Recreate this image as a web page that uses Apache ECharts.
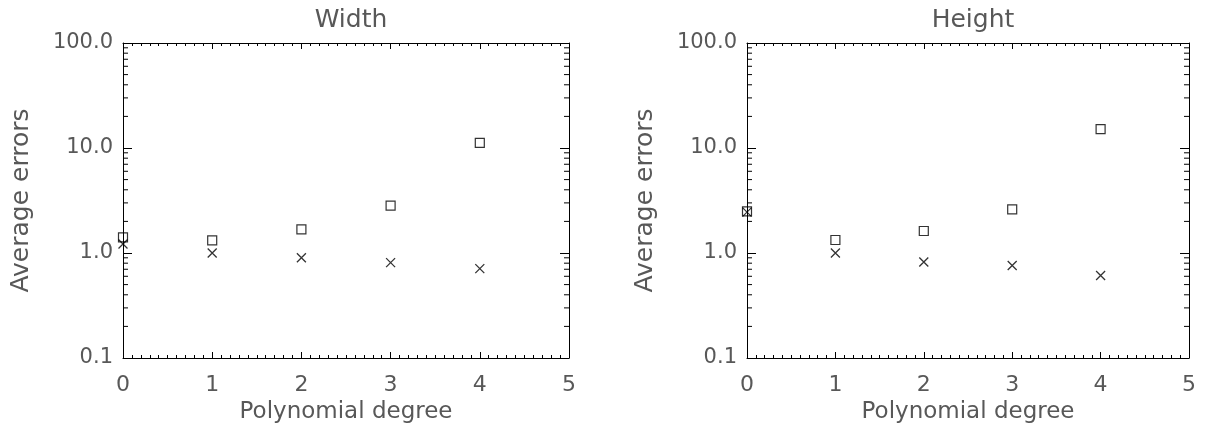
<!DOCTYPE html>
<html>
<head>
<meta charset="utf-8">
<script src="https://cdn.jsdelivr.net/npm/echarts@6/dist/echarts.min.js"></script>
<style>
  html, body { margin: 0; padding: 0; background: #fff; }
  #chart { width: 1212px; height: 436px; }
</style>
</head>
<body>
<div id="chart"></div>
<script>
// polynomial degree on x, average error on a log y axis
const degrees = [0, 1, 2, 3, 4]
const panelTitles = ['Width', 'Height']
const widthSquares = [1.41, 1.32, 1.68, 2.82, 11.2]
const widthCrosses = [1.22, 1.0, 0.90, 0.81, 0.71]
const heightSquares = [2.49, 1.33, 1.62, 2.60, 15.1]
const heightCrosses = [2.45, 1.0, 0.82, 0.76, 0.61]
const yTicks = [0.1, 1, 10, 100]
const yMinorTicks = [0.2, 0.3, 0.4, 0.5, 0.6, 0.7, 0.8, 0.9, 2, 3, 4, 5, 6, 7, 8, 9, 20, 30, 40, 50, 60, 70, 80, 90]

const font = 'DejaVu Sans'
const ink = '#000'
const textColor = '#585858'

const grids = [
  { left: 123, right: 643, top: 43, bottom: 78 },
  { left: 747, right: 23, top: 43, bottom: 78 }
]

const chart = echarts.init(document.getElementById('chart'), null, { renderer: 'canvas' })

const xAxes = []
const yAxes = []
const series = []
const titles = []

grids.forEach((g, i) => {
  const plotWidth = 1212 - g.left - g.right
  titles.push({
    text: panelTitles[i],
    left: g.left + plotWidth / 2,
    textAlign: 'center',
    top: 3,
    textStyle: { fontFamily: font, fontSize: 25, fontWeight: 'normal', color: textColor }
  })

  const xBase = {
    type: 'value', gridIndex: i, min: 0, max: 5, interval: 1,
    axisLine: { show: true, onZero: false, lineStyle: { color: ink, width: 1 } },
    axisTick: { show: true, inside: true, length: 6, lineStyle: { color: ink } },
    minorTick: { show: true, splitNumber: 10, length: 3, lineStyle: { color: ink } },
    splitLine: { show: false }
  }
  xAxes.push(Object.assign({}, xBase, {
    position: 'bottom',
    name: 'Polynomial degree', nameLocation: 'middle', nameGap: 43,
    nameTextStyle: { fontFamily: font, fontSize: 23, color: textColor },
    axisLabel: { show: true, margin: 16, fontFamily: font, fontSize: 22, color: textColor }
  }))
  xAxes.push(Object.assign({}, xBase, { position: 'top', axisLabel: { show: false } }))

  const yBase = {
    type: 'log', logBase: 10, gridIndex: i, min: 0.1, max: 100,
    axisLine: { show: true, onZero: false, lineStyle: { color: ink, width: 1 } },
    axisTick: { show: true, inside: true, length: 9, lineStyle: { color: ink } },
    splitLine: { show: false }
  }
  yAxes.push(Object.assign({}, yBase, {
    position: 'left',
    name: 'Average errors', nameLocation: 'middle', nameGap: 89,
    nameTextStyle: { fontFamily: font, fontSize: 25, color: textColor },
    axisLabel: {
      show: true, margin: 10, fontFamily: font, fontSize: 21, color: textColor,
      formatter: v => (yTicks.includes(+v) ? (+v).toFixed(1) : '')
    }
  }))
  yAxes.push(Object.assign({}, yBase, { position: 'right', axisLabel: { show: false } }))

  const squares = i === 0 ? widthSquares : heightSquares
  const crosses = i === 0 ? widthCrosses : heightCrosses

  series.push({
    type: 'scatter', xAxisIndex: i * 2, yAxisIndex: i * 2,
    symbol: 'rect', symbolSize: 9,
    itemStyle: { color: 'rgba(0,0,0,0)', borderColor: ink, borderWidth: 1.2 },
    data: degrees.map((d, k) => [d, squares[k]]),
    silent: true
  })
  series.push({
    type: 'scatter', xAxisIndex: i * 2, yAxisIndex: i * 2,
    symbol: 'path://M0,0L10,10M10,0L0,10', symbolSize: 9,
    itemStyle: { color: 'rgba(0,0,0,0)', borderColor: ink, borderWidth: 1.3 },
    data: degrees.map((d, k) => [d, crosses[k]]),
    silent: true
  })

  // minor log ticks on both vertical sides, drawn through the axis scale
  series.push({
    type: 'custom', xAxisIndex: i * 2, yAxisIndex: i * 2, silent: true,
    data: yMinorTicks.map(v => [0, v]),
    renderItem: (params, api) => {
      const cs = params.coordSys
      const y = api.coord([0, api.value(1)])[1]
      const style = { stroke: ink, lineWidth: 1 }
      return {
        type: 'group',
        children: [
          { type: 'line', shape: { x1: cs.x, y1: y, x2: cs.x + 5, y2: y }, style },
          { type: 'line', shape: { x1: cs.x + cs.width - 5, y1: y, x2: cs.x + cs.width, y2: y }, style }
        ]
      }
    }
  })
})

chart.setOption({
  animation: false,
  backgroundColor: '#fff',
  title: titles,
  grid: grids,
  xAxis: xAxes,
  yAxis: yAxes,
  series: series
})
</script>
</body>
</html>
